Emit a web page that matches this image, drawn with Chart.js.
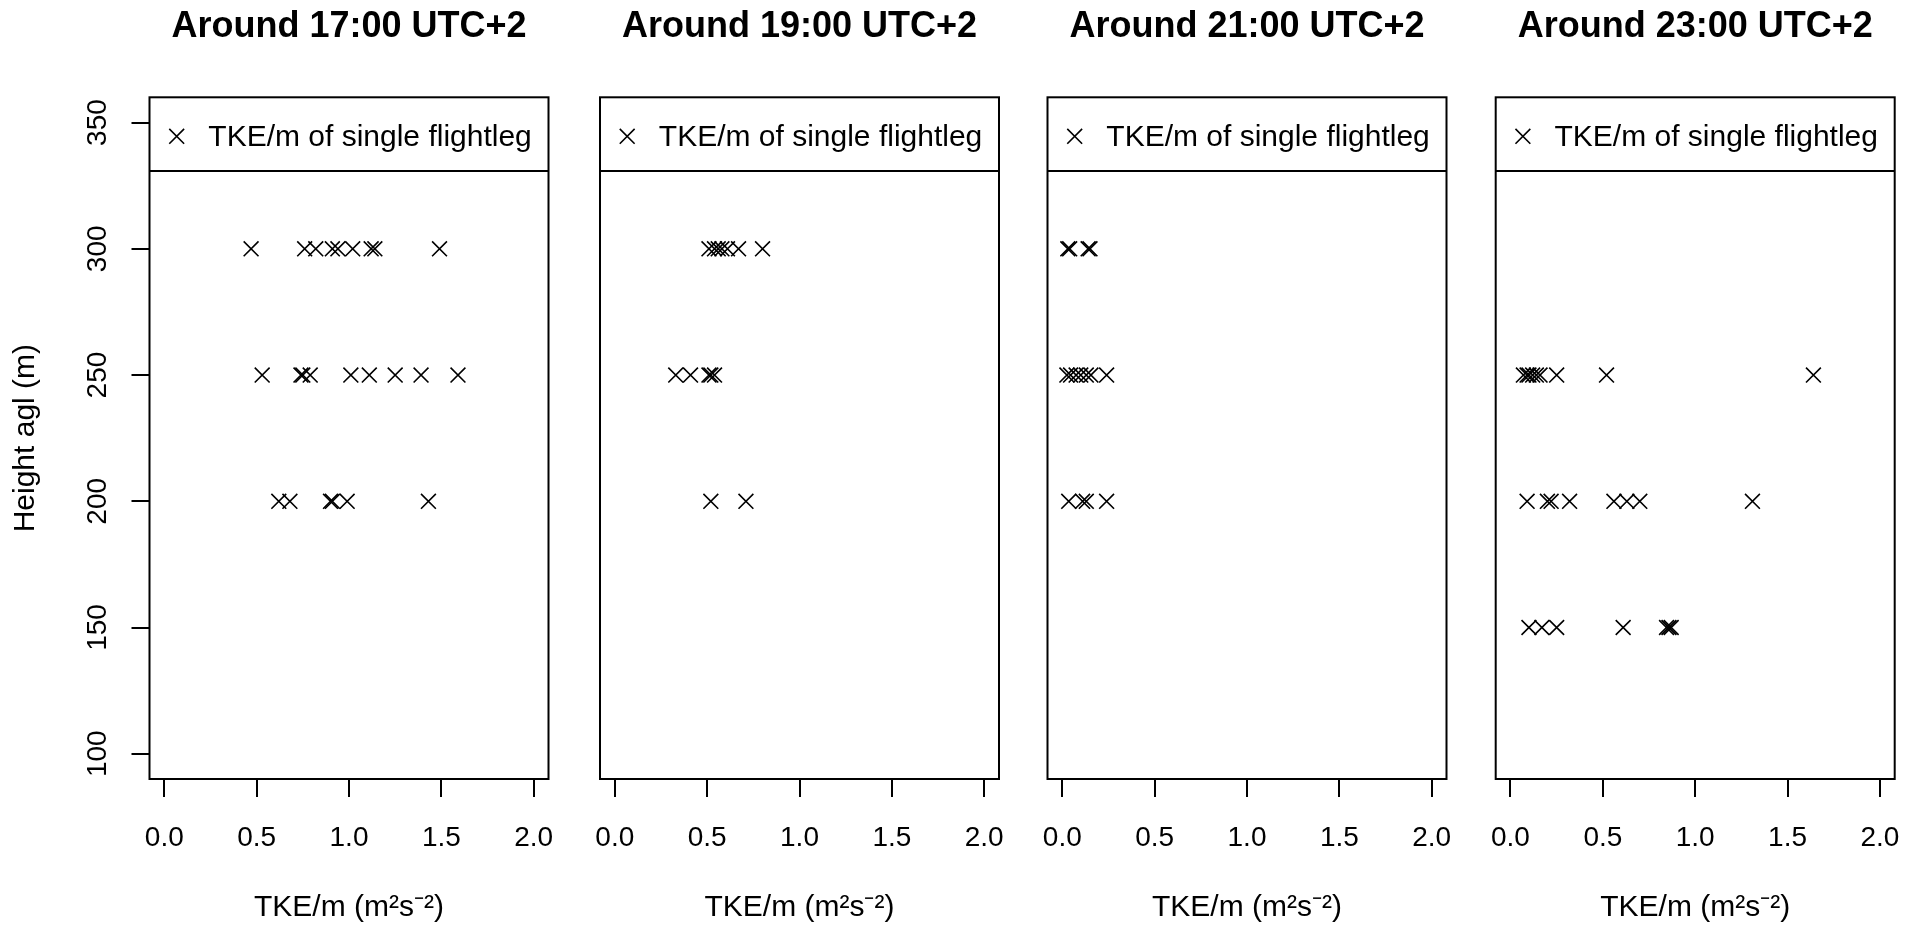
<!DOCTYPE html>
<html>
<head>
<meta charset="utf-8">
<title>TKE/m of single flightlegs</title>
<script src="https://cdn.jsdelivr.net/npm/chart.js"></script>
<style>
  html, body { margin: 0; padding: 0; background: #fff; overflow: hidden; }
  #wrap { position: relative; width: 1907px; height: 926px; }
  #wrap canvas { position: absolute; top: 0; }
</style>
</head>
<body>
<div id="wrap"></div>
<script>
const panelTitles = ['Around 17:00 UTC+2', 'Around 19:00 UTC+2', 'Around 21:00 UTC+2', 'Around 23:00 UTC+2'];
const legendLabel = 'TKE/m of single flightleg';
const xTitle = 'TKE/m (m²s⁻²)';
const yTitle = 'Height agl (m)';
const xTicks = [0, 0.5, 1, 1.5, 2];
const yTicks = [100, 150, 200, 250, 300, 350];

// TKE/m per flightleg and its height, one pair per time
const tke17 = [0.47, 0.76, 0.82, 0.91, 0.94, 1.02, 1.12, 1.14, 1.49,
               0.53, 0.74, 0.75, 0.79, 1.01, 1.11, 1.25, 1.39, 1.59,
               0.62, 0.68, 0.90, 0.91, 0.99, 1.43];
const hgt17 = [300, 300, 300, 300, 300, 300, 300, 300, 300,
               250, 250, 250, 250, 250, 250, 250, 250, 250,
               200, 200, 200, 200, 200, 200];

const tke19 = [0.51, 0.54, 0.56, 0.58, 0.61, 0.67, 0.80,
               0.33, 0.41, 0.51, 0.52, 0.54,
               0.52, 0.71];
const hgt19 = [300, 300, 300, 300, 300, 300, 300,
               250, 250, 250, 250, 250,
               200, 200];

const tke21 = [0.03, 0.04, 0.14, 0.15,
               0.025, 0.045, 0.075, 0.10, 0.13, 0.155, 0.24,
               0.035, 0.11, 0.13, 0.24];
const hgt21 = [300, 300, 300, 300,
               250, 250, 250, 250, 250, 250, 250,
               200, 200, 200, 200];

const tke23 = [0.07, 0.09, 0.10, 0.12, 0.14, 0.16, 0.25, 0.52, 1.64,
               0.09, 0.20, 0.22, 0.32, 0.56, 0.63, 0.70, 1.31,
               0.10, 0.17, 0.25, 0.61, 0.845, 0.858, 0.87];
const hgt23 = [250, 250, 250, 250, 250, 250, 250, 250, 250,
               200, 200, 200, 200, 200, 200, 200, 200,
               150, 150, 150, 150, 150, 150, 150];

const panelTke = [tke17, tke19, tke21, tke23];
const panelHgt = [hgt17, hgt19, hgt21, hgt23];

// page layout
const plotLeft = [149.5, 600, 1047.5, 1495.7];
const plotW = 399;
const side = 45;
const legendBoxH = 73.7;
const fontFamily = '"Liberation Sans", Arial, Helvetica, sans-serif';

Chart.defaults.font.family = fontFamily;
Chart.defaults.color = '#000';

// box around the plot + legend box at the top
const framePlugin = {
  id: 'frame',
  afterDraw(chart) {
    const {ctx, chartArea: a} = chart;
    const ds = chart.data.datasets[0];
    ctx.save();
    ctx.strokeStyle = '#000';
    ctx.lineWidth = 2;
    ctx.strokeRect(a.left, a.top, a.right - a.left, a.bottom - a.top);
    const ly = a.top + legendBoxH;
    ctx.beginPath();
    ctx.moveTo(a.left, ly);
    ctx.lineTo(a.right, ly);
    ctx.stroke();

    const mx = a.left + 27.2, my = a.top + 39;
    const h = ds.pointRadius * Math.SQRT1_2;
    ctx.lineWidth = ds.pointBorderWidth;
    ctx.beginPath();
    ctx.moveTo(mx - h, my - h); ctx.lineTo(mx + h, my + h);
    ctx.moveTo(mx - h, my + h); ctx.lineTo(mx + h, my - h);
    ctx.stroke();

    ctx.fillStyle = '#000';
    ctx.font = '30px ' + fontFamily;
    ctx.textBaseline = 'alphabetic';
    ctx.textAlign = 'left';
    ctx.fillText(ds.label, a.left + 58.8, a.top + 48.7);
    ctx.restore();
  }
};

const wrap = document.getElementById('wrap');

for (let i = 0; i < 4; i++) {
  const canvasLeft = i === 0 ? 0 : Math.round(plotLeft[i] - side);
  const padL = i === 0 ? 0 : plotLeft[i] - canvasLeft;
  const width = Math.ceil(plotLeft[i] - canvasLeft + plotW + side);
  const padR = width - (plotLeft[i] - canvasLeft) - plotW;

  const canvas = document.createElement('canvas');
  canvas.width = width;
  canvas.height = 926;
  canvas.style.left = canvasLeft + 'px';
  canvas.style.width = width + 'px';
  canvas.style.height = '926px';
  wrap.appendChild(canvas);

  const tke = panelTke[i];
  const hgt = panelHgt[i];

  new Chart(canvas, {
    type: 'scatter',
    data: {
      datasets: [{
        label: legendLabel,
        data: tke.map((x, k) => ({x: x, y: hgt[k]})),
        pointStyle: 'crossRot',
        pointRadius: 10.5,
        pointHoverRadius: 10.5,
        pointBorderWidth: 1.6,
        pointBorderColor: '#000',
        pointBackgroundColor: '#000',
        showLine: false
      }]
    },
    options: {
      responsive: false,
      animation: false,
      events: [],
      layout: { padding: { left: padL, right: padR, top: 0, bottom: 0 } },
      plugins: {
        legend: { display: false },
        tooltip: { enabled: false },
        title: {
          display: true,
          text: panelTitles[i],
          fullSize: false,
          color: '#000',
          font: { size: 36, weight: 'bold' },
          padding: { top: 5.5, bottom: 48.6 }
        }
      },
      scales: {
        x: {
          type: 'linear',
          min: -0.08,
          max: 2.08,
          afterBuildTicks: s => { s.ticks = xTicks.map(v => ({value: v})); },
          afterFit: s => { s.height = 147; },
          border: { display: false },
          grid: { drawOnChartArea: false, tickLength: 18, color: '#000', lineWidth: 2 },
          ticks: {
            color: '#000',
            font: { size: 28 },
            padding: 24.8,
            maxRotation: 0,
            callback: v => Number(v).toFixed(1)
          },
          title: {
            display: true,
            text: xTitle,
            color: '#000',
            font: { size: 30 },
            padding: { top: 0, bottom: 0 }
          }
        },
        y: {
          type: 'linear',
          display: i === 0,
          min: 90,
          max: 360,
          afterBuildTicks: s => { s.ticks = yTicks.map(v => ({value: v})); },
          afterFit: s => { s.width = i === 0 ? plotLeft[0] : 0; },
          border: { display: false },
          grid: { drawOnChartArea: false, tickLength: 18, color: '#000', lineWidth: 2 },
          ticks: {
            color: '#000',
            font: { size: 28 },
            minRotation: 90,
            maxRotation: 90,
            crossAlign: 'center',
            padding: 9.5
          },
          title: {
            display: true,
            text: yTitle,
            color: '#000',
            font: { size: 30 },
            padding: { top: 7.3, bottom: 0 }
          }
        }
      }
    },
    plugins: [framePlugin]
  });
}
</script>
</body>
</html>
